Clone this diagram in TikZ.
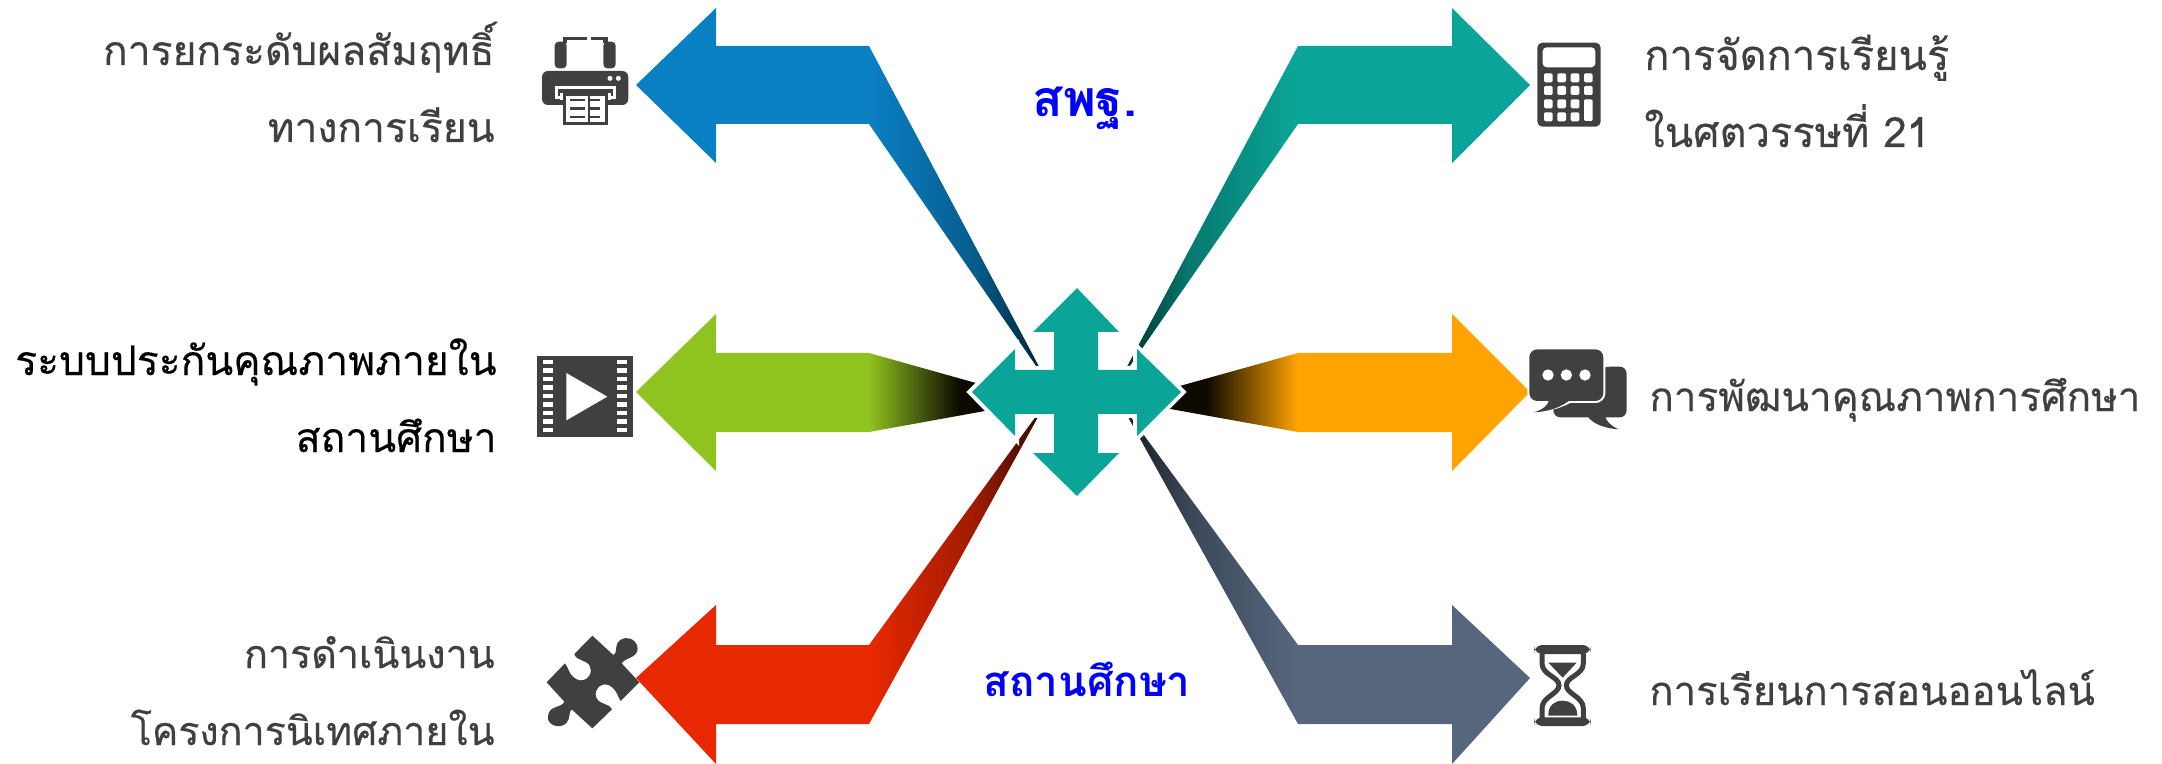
\documentclass[tikz,border=0pt]{standalone}
\usepackage{fontspec}
\newfontfamily\thaifont[Script=Thai,FakeBold=0.35]{Loma}
\newfontfamily\thaibold[Script=Thai]{Loma Bold}
\definecolor{cblue}{HTML}{0A80C4}\definecolor{dblue}{HTML}{00202F}
\definecolor{cteal}{HTML}{0AA598}\definecolor{dteal}{HTML}{00302C}
\definecolor{cgreen}{HTML}{8FC31F}\definecolor{corange}{HTML}{FFA300}
\definecolor{dmid}{HTML}{0E0A00}
\definecolor{cred}{HTML}{E82800}\definecolor{dred}{HTML}{300800}
\definecolor{cslate}{HTML}{56667D}\definecolor{dslate}{HTML}{161A20}
\colorlet{mblue}{cblue!62!dblue}\colorlet{mteal}{cteal!62!dteal}
\colorlet{mred}{cred!60!dred}\colorlet{mslate}{cslate!60!dslate}
\definecolor{icon}{HTML}{404040}\definecolor{ink}{HTML}{404040}
\pgfdeclarehorizontalshading{shblue}{100bp}{color(0bp)=(cblue); color(53.8bp)=(cblue); color(66.7bp)=(mblue); color(75bp)=(dblue); color(100bp)=(dblue)}
\pgfdeclarehorizontalshading{shred}{100bp}{color(0bp)=(cred); color(53.8bp)=(cred); color(66.7bp)=(mred); color(75bp)=(dred); color(100bp)=(dred)}
\pgfdeclarehorizontalshading{shgreen}{100bp}{color(0bp)=(cgreen); color(53.8bp)=(cgreen); color(65bp)=(dmid); color(100bp)=(dmid)}
\pgfdeclarehorizontalshading{shteal}{100bp}{color(0bp)=(dteal); color(25bp)=(dteal); color(33.3bp)=(mteal); color(46.2bp)=(cteal); color(100bp)=(cteal)}
\pgfdeclarehorizontalshading{shslate}{100bp}{color(0bp)=(dslate); color(25bp)=(dslate); color(33.3bp)=(mslate); color(46.2bp)=(cslate); color(100bp)=(cslate)}
\pgfdeclarehorizontalshading{shorange}{100bp}{color(0bp)=(dmid); color(35bp)=(dmid); color(46.2bp)=(corange); color(100bp)=(corange)}
\tikzset{
  lefttext/.style={anchor=base east,align=right,inner sep=0pt,font=\thaifont\fontsize{20.4}{38.5}\selectfont,text=ink},
  righttext/.style={anchor=base west,align=left,inner sep=0pt,font=\thaifont\fontsize{20.4}{38.5}\selectfont,text=ink},
  midtext/.style={anchor=base,inner sep=0pt,font=\thaibold\fontsize{21}{26}\selectfont,text=blue}
}
\begin{document}
\begin{tikzpicture}[x=0.5pt,y=-0.5pt]
\useasboundingbox (0,0) rectangle (2162,764);
% arrows
\path[shading=shblue] (636,85)--(716,8)--(716,46)--(869,46)--(1044,376)--(1043,376)--(869,124)--(716,124)--(716,163)--cycle;
\path[shading=shgreen] (636,392)--(716,314)--(716,353)--(869,353)--(1040,401)--(869,432)--(716,432)--(716,471)--cycle;
\path[shading=shred] (636,678)--(716,605)--(716,645)--(869,645)--(1042,408)--(1043,408)--(869,724)--(716,724)--(716,764)--cycle;
\path[shading=shteal] (1530,85)--(1452,8)--(1452,46)--(1298,46)--(1122,376)--(1123,376)--(1298,124)--(1452,124)--(1452,163)--cycle;
\path[shading=shorange] (1530,392)--(1452,314)--(1452,353)--(1298,353)--(1126,401)--(1298,432)--(1452,432)--(1452,471)--cycle;
\path[shading=shslate] (1530,678)--(1452,605)--(1452,645)--(1298,645)--(1124,408)--(1123,408)--(1298,724)--(1452,724)--(1452,764)--cycle;
% cross
\def\crosspath{(1077,288)--(1119,332)--(1098,332)--(1098,370)--(1137,370)--(1137,349)--(1181,392)--(1137,436)--(1137,414)--(1098,414)--(1098,453)--(1119,453)--(1077,496)--(1033,453)--(1054,453)--(1054,414)--(1015,414)--(1015,436)--(972,392)--(1015,349)--(1015,370)--(1054,370)--(1054,332)--(1033,332)--cycle}
\draw[white,line width=4pt] \crosspath;
\fill[cteal] \crosspath;
% printer
\begin{scope}[shift={(520,0)},scale=1/3]
\fill[icon,rounded corners=2pt] (104,205)--(104,125)--(140,125)--(140,205)--cycle;
\fill[icon,rounded corners=2pt] (250,205)--(250,125)--(287,125)--(287,205)--cycle;
\fill[icon] (128,110) rectangle (200,119);
\fill[icon] (213,110) rectangle (263,119);
\fill[icon] (128,110) rectangle (140,130);
\fill[icon] (250,110) rectangle (263,130);
\fill[icon,rounded corners=3pt] (66,213) rectangle (325,315);
\fill[white] (270,235) circle (7.5);
\fill[white] (295,235) circle (7.5);
\fill[white] (105,258) rectangle (288,298);
\fill[icon] (114,267) rectangle (279,289);
\fill[white] (120,278) rectangle (272,300);
\fill[icon] (128,279) rectangle (265,375);
\fill[white] (139,289) rectangle (204,366);
\fill[white] (209,289) rectangle (254,366);
\foreach \yy in {296,322,347}{
  \fill[icon] (150,\yy) rectangle (195,\yy+7);
  \fill[icon] (210,\yy) rectangle (240,\yy+7);
}
\end{scope}
% film
\begin{scope}[shift={(520,340)},scale=1/3]
\fill[icon] (50,48) rectangle (340,292);
\foreach \yy in {67,92,118,143,169,194,220,245,271}{
  \fill[white] (68,\yy-6.5) rectangle (100,\yy+6.5);
  \fill[white] (290,\yy-6.5) rectangle (320,\yy+6.5);
}
\fill[white] (139,99)--(262,170)--(139,241)--cycle;
\end{scope}
% puzzle
\begin{scope}[shift={(530,620)},scale=1/3]
\fill[icon] (187,47)--(250,105) .. controls (262,100) and (255,85) .. (262,70)
 .. controls (275,45) and (320,50) .. (323,85) .. controls (323,115) and (285,112) .. (275,130)
 --(328,187)--(272,243) .. controls (265,235) and (260,205) .. (235,195)
 .. controls (205,185) and (190,220) .. (200,235) .. controls (210,255) and (240,250) .. (246,268)
 --(187,325)--(125,268) .. controls (115,275) and (122,295) .. (110,308)
 .. controls (90,330) and (50,315) .. (54,290) .. controls (55,255) and (95,265) .. (103,245)
 --(50,187)--(105,130) .. controls (115,140) and (115,165) .. (140,178)
 .. controls (165,190) and (190,165) .. (180,140) .. controls (172,118) and (140,125) .. (133,102)--cycle;
\end{scope}
% calculator
\begin{scope}[shift={(1510,20)},scale=1/3]
\fill[icon,rounded corners=2.5pt] (82,68) rectangle (272,320);
\fill[white,rounded corners=2pt] (98,82) rectangle (256,142);
\foreach \xx in {102,142,182,222}{
  \foreach \yy in {160,198}{\fill[white,rounded corners=0.7pt] (\xx,\yy) rectangle (\xx+26,\yy+27);}
}
\foreach \xx in {102,142,182}{
  \foreach \yy in {238,277}{\fill[white,rounded corners=0.7pt] (\xx,\yy) rectangle (\xx+26,\yy+27);}
}
\fill[white,rounded corners=0.7pt] (222,238) rectangle (248,303);
\end{scope}
% chat
\begin{scope}[shift={(1510,330)},scale=1/3]
\fill[icon,rounded corners=3.5pt] (280,110) -- (350,110) -- (350,262) -- (130,262) -- (130,200) -- cycle;
\fill[icon] (232,258) .. controls (250,285) and (290,295) .. (325,298) .. controls (300,285) and (290,275) .. (285,258)--cycle;
\draw[white,line width=2pt,rounded corners=4pt] (58,58) rectangle (280,213);
\fill[white] (72,247) .. controls (110,240) and (120,225) .. (122,213)--(190,213) .. controls (165,230) and (120,245) .. (72,250)--cycle;
\fill[icon,rounded corners=4pt] (58,58) rectangle (280,213);
\fill[icon] (118,208) .. controls (115,225) and (100,238) .. (72,247) .. controls (115,245) and (155,232) .. (182,208)--cycle;
\fill[white] (114,135) circle (17);
\fill[white] (169,135) circle (17);
\fill[white] (225,135) circle (17);
\end{scope}
% hourglass
\begin{scope}[shift={(1520,630)},scale=1/3]
\draw[icon,line width=2.5pt] (66,70)--(66,100) .. controls (66,135) and (117,140) .. (117,166) .. controls (117,192) and (66,200) .. (66,235)--(66,265);
\draw[icon,line width=2.5pt] (190,70)--(190,100) .. controls (190,135) and (139,140) .. (139,166) .. controls (139,192) and (190,200) .. (190,235)--(190,265);
\fill[icon,rounded corners=4pt] (43,45) rectangle (212,72);
\fill[icon,rounded corners=4pt] (43,262) rectangle (212,288);
\fill[icon] (85,98)--(170,98)--(128,143)--cycle;
\fill[icon] (85,257) .. controls (84,225) and (105,212) .. (128,212) .. controls (150,212) and (172,225) .. (172,257)--cycle;
\end{scope}
% text
\node[lefttext] (t1) at (495,142) {การยกระดับผลสัมฤทธิ์\\ทางการเรียน};
\node[lefttext,text=black] (t2) at (497,452) {ระบบประกันคุณภาพภายใน\\สถานศึกษา};
\node[lefttext,font=\thaifont\fontsize{19.7}{38.5}\selectfont] (t3) at (495,745) {การดำเนินงาน\\โครงการนิเทศภายใน};
\node[righttext,font=\thaifont\fontsize{20.8}{38.5}\selectfont] (t4) at (1644,147) {การจัดการเรียนรู้\\ในศตวรรษที่ 21};
\node[righttext,font=\thaifont\fontsize{20.2}{38.5}\selectfont] (t5) at (1649,411) {การพัฒนาคุณภาพการศึกษา};
\node[righttext,font=\thaifont\fontsize{20}{38.5}\selectfont] (t6) at (1649,705) {การเรียนการสอนออนไลน์};
\node[midtext,font=\thaibold\fontsize{25}{30}\selectfont] (m1) at (1085,117) {สพฐ.};
\node[midtext] (m2) at (1087,696) {สถานศึกษา};
\end{tikzpicture}
\end{document}
